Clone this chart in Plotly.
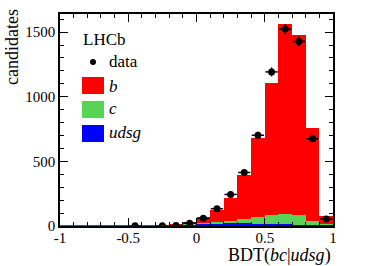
import numpy as np
import plotly.graph_objects as go

# ---- data ----
bin_centers = [-0.25, -0.15, -0.05, 0.05, 0.15, 0.25, 0.35, 0.45, 0.55, 0.65, 0.75, 0.85, 0.95]
b_vals    = [4, 4, 16, 45, 90, 177, 346, 609, 1018, 1467, 1392, 721, 66]
c_vals    = [0, 1, 2, 7, 10, 21, 31, 52, 71, 80, 75, 30, 4]
udsg_vals = [2, 3, 10, 18, 20, 20, 20, 18, 14, 12, 10, 8, 8]

data_x = [-0.45, -0.25, -0.15, -0.05, 0.05, 0.15, 0.25, 0.35, 0.45, 0.55, 0.65, 0.75, 0.85, 0.95]
data_y = [1, 2, 3, 22, 59, 134, 244, 414, 702, 1192, 1523, 1428, 675, 55]

x_ticks = [-1, -0.5, 0, 0.5, 1]
x_tick_labels = ["-1", "-0.5", "0", "0.5", "1"]
y_ticks = [0, 500, 1000, 1500]
y_tick_labels = ["0", "500", "1000", "1500"]

BIN_W = 0.1
FONT = "Liberation Serif"
RED, GREEN, BLUE = "#ff0000", "#57d357", "#0000ff"

fig = go.Figure()
fig.add_trace(go.Bar(x=bin_centers, y=udsg_vals, width=BIN_W, marker=dict(color=BLUE, line=dict(width=0)), name="udsg"))
fig.add_trace(go.Bar(x=bin_centers, y=c_vals, width=BIN_W, marker=dict(color=GREEN, line=dict(width=0)), name="c"))
fig.add_trace(go.Bar(x=bin_centers, y=b_vals, width=BIN_W, marker=dict(color=RED, line=dict(width=0)), name="b"))

fig.add_trace(go.Scatter(
    x=data_x, y=data_y, mode="markers",
    marker=dict(color="black", size=7),
    error_y=dict(type="data", array=list(np.sqrt(data_y)), color="black", thickness=1.5, width=0),
    error_x=dict(type="constant", value=BIN_W / 2 * 0.9, color="black", thickness=1.5, width=0),
    name="data"))

axis_common = dict(showline=True, linewidth=1.5, linecolor="black", mirror="ticks",
                   ticks="inside", tickcolor="black", tickwidth=1.2, showgrid=False,
                   zeroline=False, tickfont=dict(family=FONT, size=15, color="black"))

fig.update_xaxes(range=[-1, 1], tickvals=x_ticks, ticktext=x_tick_labels, ticklen=8,
                 ticklabelstandoff=-3,
                 minor=dict(dtick=0.1, ticks="inside", ticklen=4, tickcolor="black", tickwidth=1.2, showgrid=False),
                 **axis_common)
fig.update_yaxes(range=[0, 1640], tickvals=y_ticks, ticktext=y_tick_labels, ticklen=8,
                 minor=dict(dtick=100, ticks="inside", ticklen=4, tickcolor="black", tickwidth=1.2, showgrid=False),
                 **axis_common)

W, H = 392, 266
L, R, T, B = 60, 59, 14, 40
pw, ph = W - L - R, H - T - B

def px(x):
    return (x - L) / pw

def py(y):
    return (H - B - y) / ph

annotations = [
    dict(text="BDT(<i>bc</i>|<i>udsg</i>)", x=1, xanchor="right", y=py(255), yanchor="middle",
         xref="paper", yref="paper", showarrow=False, font=dict(family=FONT, size=18, color="black")),
    dict(text="candidates", textangle=-90, x=px(12), xanchor="center", y=py(47), yanchor="middle",
         xref="paper", yref="paper", showarrow=False, font=dict(family=FONT, size=18, color="black")),
    dict(text="LHCb", x=px(81), xanchor="left", y=py(40), yanchor="middle",
         xref="paper", yref="paper", showarrow=False, font=dict(family=FONT, size=17, color="black")),
    dict(text="data", x=px(107), xanchor="left", y=py(62), yanchor="middle",
         xref="paper", yref="paper", showarrow=False, font=dict(family=FONT, size=17, color="black")),
    dict(text="<i>b</i>", x=px(107), xanchor="left", y=py(86), yanchor="middle",
         xref="paper", yref="paper", showarrow=False, font=dict(family=FONT, size=17, color="black")),
    dict(text="<i>c</i>", x=px(107), xanchor="left", y=py(109), yanchor="middle",
         xref="paper", yref="paper", showarrow=False, font=dict(family=FONT, size=17, color="black")),
    dict(text="<i>udsg</i>", x=px(107), xanchor="left", y=py(132), yanchor="middle",
         xref="paper", yref="paper", showarrow=False, font=dict(family=FONT, size=17, color="black")),
]

shapes = [
    dict(type="circle", xref="paper", yref="paper", x0=px(90), x1=px(96), y0=py(65), y1=py(59),
         fillcolor="black", line=dict(width=0)),
    dict(type="rect", xref="paper", yref="paper", x0=px(82), x1=px(104), y0=py(94), y1=py(77),
         fillcolor=RED, line=dict(width=0)),
    dict(type="rect", xref="paper", yref="paper", x0=px(82), x1=px(104), y0=py(118), y1=py(101),
         fillcolor=GREEN, line=dict(width=0)),
    dict(type="rect", xref="paper", yref="paper", x0=px(82), x1=px(104), y0=py(142), y1=py(125),
         fillcolor=BLUE, line=dict(width=0)),
    dict(type="line", xref="paper", yref="y", x0=0, x1=1, y0=0, y1=0, line=dict(color=BLUE, width=1.5)),
]

fig.update_layout(
    width=W, height=H, margin=dict(l=L, r=R, t=T, b=B),
    barmode="stack", bargap=0, showlegend=False,
    plot_bgcolor="white", paper_bgcolor="white",
    annotations=annotations, shapes=shapes,
    font=dict(family=FONT, color="black"),
)

fig.write_html("out.html", config={"displayModeBar": False},
               post_script="document.body.style.margin='0';document.body.style.overflow='hidden';")
